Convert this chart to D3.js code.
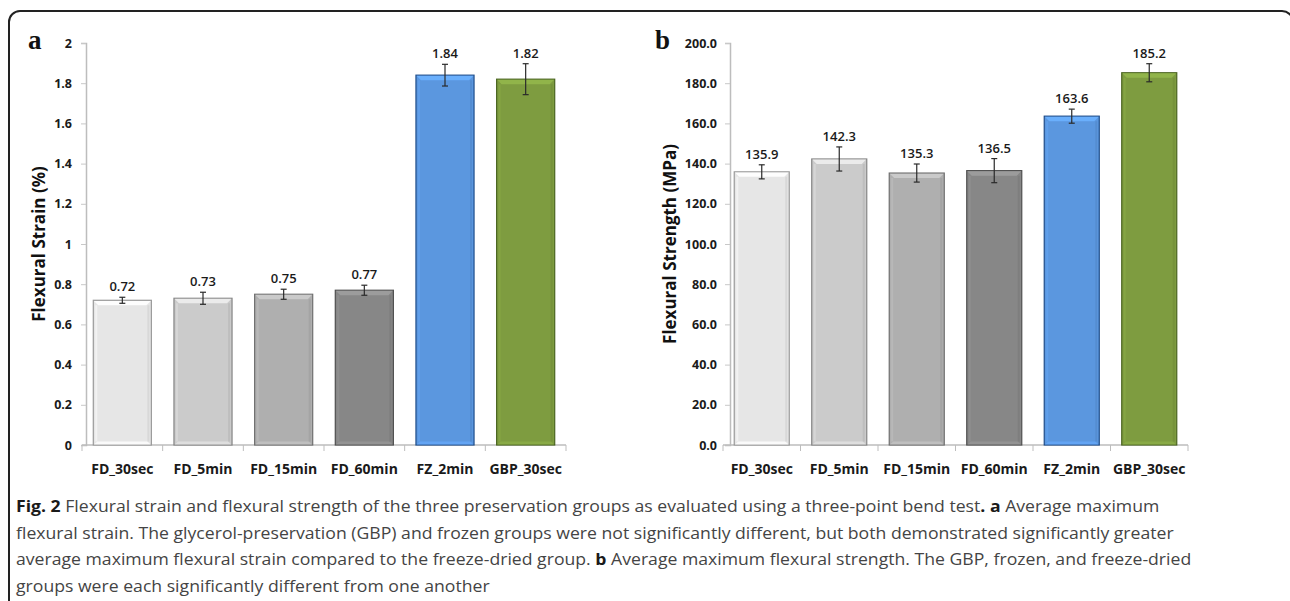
<!DOCTYPE html>
<html>
<head>
<meta charset="utf-8">
<script src="https://cdn.jsdelivr.net/npm/d3@7"></script>
<style>
  body { margin: 0; background: #fff; }
  svg { display: block; }
</style>
</head>
<body>
<div class="vizHolder"></div>
<script>
var width = 1290,
    height = 601;

// data
var categories = ["FD_30sec", "FD_5min", "FD_15min", "FD_60min", "FZ_2min", "GBP_30sec"];

var strainMeans = [0.72, 0.73, 0.75, 0.77, 1.84, 1.82];
var strainErrors = [0.015, 0.03, 0.025, 0.025, 0.054, 0.077];
var strainTicks = [0, 0.2, 0.4, 0.6, 0.8, 1, 1.2, 1.4, 1.6, 1.8, 2];
var strainTickLabels = ["0", "0.2", "0.4", "0.6", "0.8", "1", "1.2", "1.4", "1.6", "1.8", "2"];

var strengthMeans = [135.9, 142.3, 135.3, 136.5, 163.6, 185.2];
var strengthErrors = [3.5, 6, 4.5, 6, 3.5, 4.5];
var strengthTicks = [0, 20, 40, 60, 80, 100, 120, 140, 160, 180, 200];
var strengthTickLabels = ["0.0", "20.0", "40.0", "60.0", "80.0", "100.0", "120.0", "140.0", "160.0", "180.0", "200.0"];

var barFills = ["#e6e6e6", "#cbcbcb", "#afafaf", "#878787", "#5b97df", "#7e9c40"];
var barStrokes = ["#9a9a9a", "#858585", "#6f6f6f", "#4f4f4f", "#1f4d8a", "#4a6420"];

var captionLines = [
  [{t: "Fig. 2", b: true}, {t: " Flexural strain and flexural strength of the three preservation groups as evaluated using a three-point bend test"}, {t: ". a", b: true}, {t: " Average maximum"}],
  [{t: "flexural strain. The glycerol-preservation (GBP) and frozen groups were not significantly different, but both demonstrated significantly greater"}],
  [{t: "average maximum flexural strain compared to the freeze-dried group. "}, {t: "b", b: true}, {t: " Average maximum flexural strength. The GBP, frozen, and freeze-dried"}],
  [{t: "groups were each significantly different from one another"}]
];

var svg = d3.select('.vizHolder')
            .append('svg')
            .attr('width', width)
            .attr('height', height);

// outer frame (rounded, runs off the bottom/right)
svg.append('rect')
   .attr('x', 9).attr('y', 11)
   .attr('width', 1284).attr('height', 640)
   .attr('rx', 11)
   .attr('fill', 'none')
   .attr('stroke', '#222')
   .attr('stroke-width', 2);

var font = "'Open Sans', 'Noto Sans', sans-serif";

function drawPanel(p) {
    var g = svg.append('g');

    var x = d3.scaleBand()
              .domain(categories)
              .range(p.xRange)
              .paddingInner(p.pad)
              .paddingOuter(p.pad / 2);

    var y = d3.scaleLinear()
              .domain([p.ticks[0], p.ticks[p.ticks.length - 1]])
              .range([445, 43]);

    // y axis
    var yAxis = d3.axisLeft(y)
                  .tickValues(p.ticks)
                  .tickSize(5)
                  .tickPadding(p.tickPad)
                  .tickFormat(function(d, i) { return p.tickLabels[i]; });

    var yg = g.append('g')
              .attr('transform', 'translate(' + p.axisX + ',0)')
              .call(yAxis);
    yg.select('.domain').attr('stroke', '#bdbdbd').attr('stroke-width', 1.5);
    yg.selectAll('.tick line').attr('stroke', '#c8c8c8');
    yg.selectAll('.tick text')
      .attr('fill', '#1a1a1a')
      .style('font-family', font)
      .style('font-weight', 'bold')
      .style('font-size', '12.5px');

    // x axis with category boundary ticks
    var x0 = p.xRange[0], x1 = p.xRange[1];
    g.append('line')
     .attr('x1', x0).attr('x2', x1)
     .attr('y1', y(0)).attr('y2', y(0))
     .attr('stroke', '#bdbdbd').attr('stroke-width', 1.5);

    var bounds = categories.map(function(c) { return x(c) - x.step() * p.pad / 2; });
    bounds.push(x1);
    g.selectAll('.xtick')
     .data(bounds)
     .enter().append('line')
     .attr('x1', function(d) { return d; })
     .attr('x2', function(d) { return d; })
     .attr('y1', y(0)).attr('y2', y(0) + 6)
     .attr('stroke', '#bdbdbd');

    g.selectAll('.xlabel')
     .data(categories)
     .enter().append('text')
     .attr('x', function(d) { return x(d) + x.bandwidth() / 2; })
     .attr('y', 474)
     .attr('text-anchor', 'middle')
     .attr('fill', '#1a1a1a')
     .style('font-family', font)
     .style('font-weight', 'bold')
     .style('font-size', '14px')
     .text(function(d) { return d; });

    // bars
    var bw = x.bandwidth();
    categories.forEach(function(c, i) {
        var bx = x(c), top = y(p.means[i]), bot = y(0);
        var col = d3.color(barFills[i]);

        g.append('rect')
         .attr('x', bx).attr('y', top)
         .attr('width', bw).attr('height', bot - top)
         .attr('fill', barFills[i])
         .attr('stroke', barStrokes[i])
         .attr('stroke-width', 1.2);

        // bevel highlight on top and bottom
        g.append('polygon')
         .attr('points', [[bx + 0.6, top + 0.6], [bx + bw - 0.6, top + 0.6], [bx + bw - 5, top + 5], [bx + 5, top + 5]].join(' '))
         .attr('fill', col.brighter(0.45))
         .attr('opacity', 0.9);
        g.append('polygon')
         .attr('points', [[bx + 0.6, bot - 0.6], [bx + bw - 0.6, bot - 0.6], [bx + bw - 4, bot - 3.5], [bx + 4, bot - 3.5]].join(' '))
         .attr('fill', col.brighter(0.3))
         .attr('opacity', 0.8);
        g.append('line')
         .attr('x1', bx + 3).attr('x2', bx + 3)
         .attr('y1', top + 5).attr('y2', bot - 3.5)
         .attr('stroke', col.brighter(0.25))
         .attr('stroke-width', 2)
         .attr('opacity', 0.6);
        g.append('line')
         .attr('x1', bx + bw - 3).attr('x2', bx + bw - 3)
         .attr('y1', top + 5).attr('y2', bot - 3.5)
         .attr('stroke', col.darker(0.35))
         .attr('stroke-width', 2)
         .attr('opacity', 0.5);

        // error bar
        var cx = bx + bw / 2;
        var eTop = y(p.means[i] + p.errors[i]), eBot = y(p.means[i] - p.errors[i]);
        g.append('line')
         .attr('x1', cx).attr('x2', cx)
         .attr('y1', eTop).attr('y2', eBot)
         .attr('stroke', '#2a2a2a').attr('stroke-width', 1.2);
        [eTop, eBot].forEach(function(ey) {
            g.append('line')
             .attr('x1', cx - 3).attr('x2', cx + 3)
             .attr('y1', ey).attr('y2', ey)
             .attr('stroke', '#2a2a2a').attr('stroke-width', 1.2);
        });

        // value label
        g.append('text')
         .attr('x', cx)
         .attr('y', eTop - 6)
         .attr('text-anchor', 'middle')
         .attr('fill', '#1a1a1a')
         .style('font-family', font)
         .style('font-weight', 600)
         .style('font-size', '13px')
         .text(p.labels[i]);
    });

    // y-axis title
    g.append('text')
     .attr('transform', 'translate(' + p.titleX + ',244) rotate(-90)')
     .attr('text-anchor', 'middle')
     .attr('fill', '#111')
     .style('font-family', font)
     .style('font-weight', 'bold')
     .style('font-size', '17px')
     .text(p.title);

    // panel letter
    g.append('text')
     .attr('x', p.letterX).attr('y', 49)
     .attr('fill', '#111')
     .style('font-family', "'Liberation Serif', 'DejaVu Serif', serif")
     .style('font-weight', 'bold')
     .style('font-size', '27px')
     .text(p.letter);
}

drawPanel({
    xRange: [82, 566], pad: 0.28, axisX: 86, tickPad: 9,
    ticks: strainTicks, tickLabels: strainTickLabels,
    means: strainMeans, errors: strainErrors,
    labels: strainMeans.map(function(v) { return v.toFixed(2); }),
    title: 'Flexural Strain (%)', titleX: 45,
    letter: 'a', letterX: 28
});

drawPanel({
    xRange: [723, 1188], pad: 0.29, axisX: 730, tickPad: 8,
    ticks: strengthTicks, tickLabels: strengthTickLabels,
    means: strengthMeans, errors: strengthErrors,
    labels: strengthMeans.map(function(v) { return v.toFixed(1); }),
    title: 'Flexural Strength (MPa)', titleX: 676,
    letter: 'b', letterX: 655
});

// caption
var cap = svg.append('g');
var capTexts = captionLines.map(function(line, i) {
    var t = cap.append('text')
               .attr('x', 0)
               .attr('y', 0)
               .attr('fill', '#444')
               .style('font-family', font)
               .style('font-size', '16px');
    line.forEach(function(seg) {
        t.append('tspan')
         .style('font-weight', seg.b ? 'bold' : 'normal')
         .attr('fill', seg.b ? '#1a1a1a' : null)
         .text(seg.t);
    });
    return t;
});
var firstW = capTexts[0].node().getComputedTextLength();
var sx = 1144 / firstW;
capTexts.forEach(function(t, i) {
    t.attr('transform', 'translate(16,' + (512 + i * 26.5) + ') scale(' + sx + ',1)');
});
</script>
</body>
</html>
